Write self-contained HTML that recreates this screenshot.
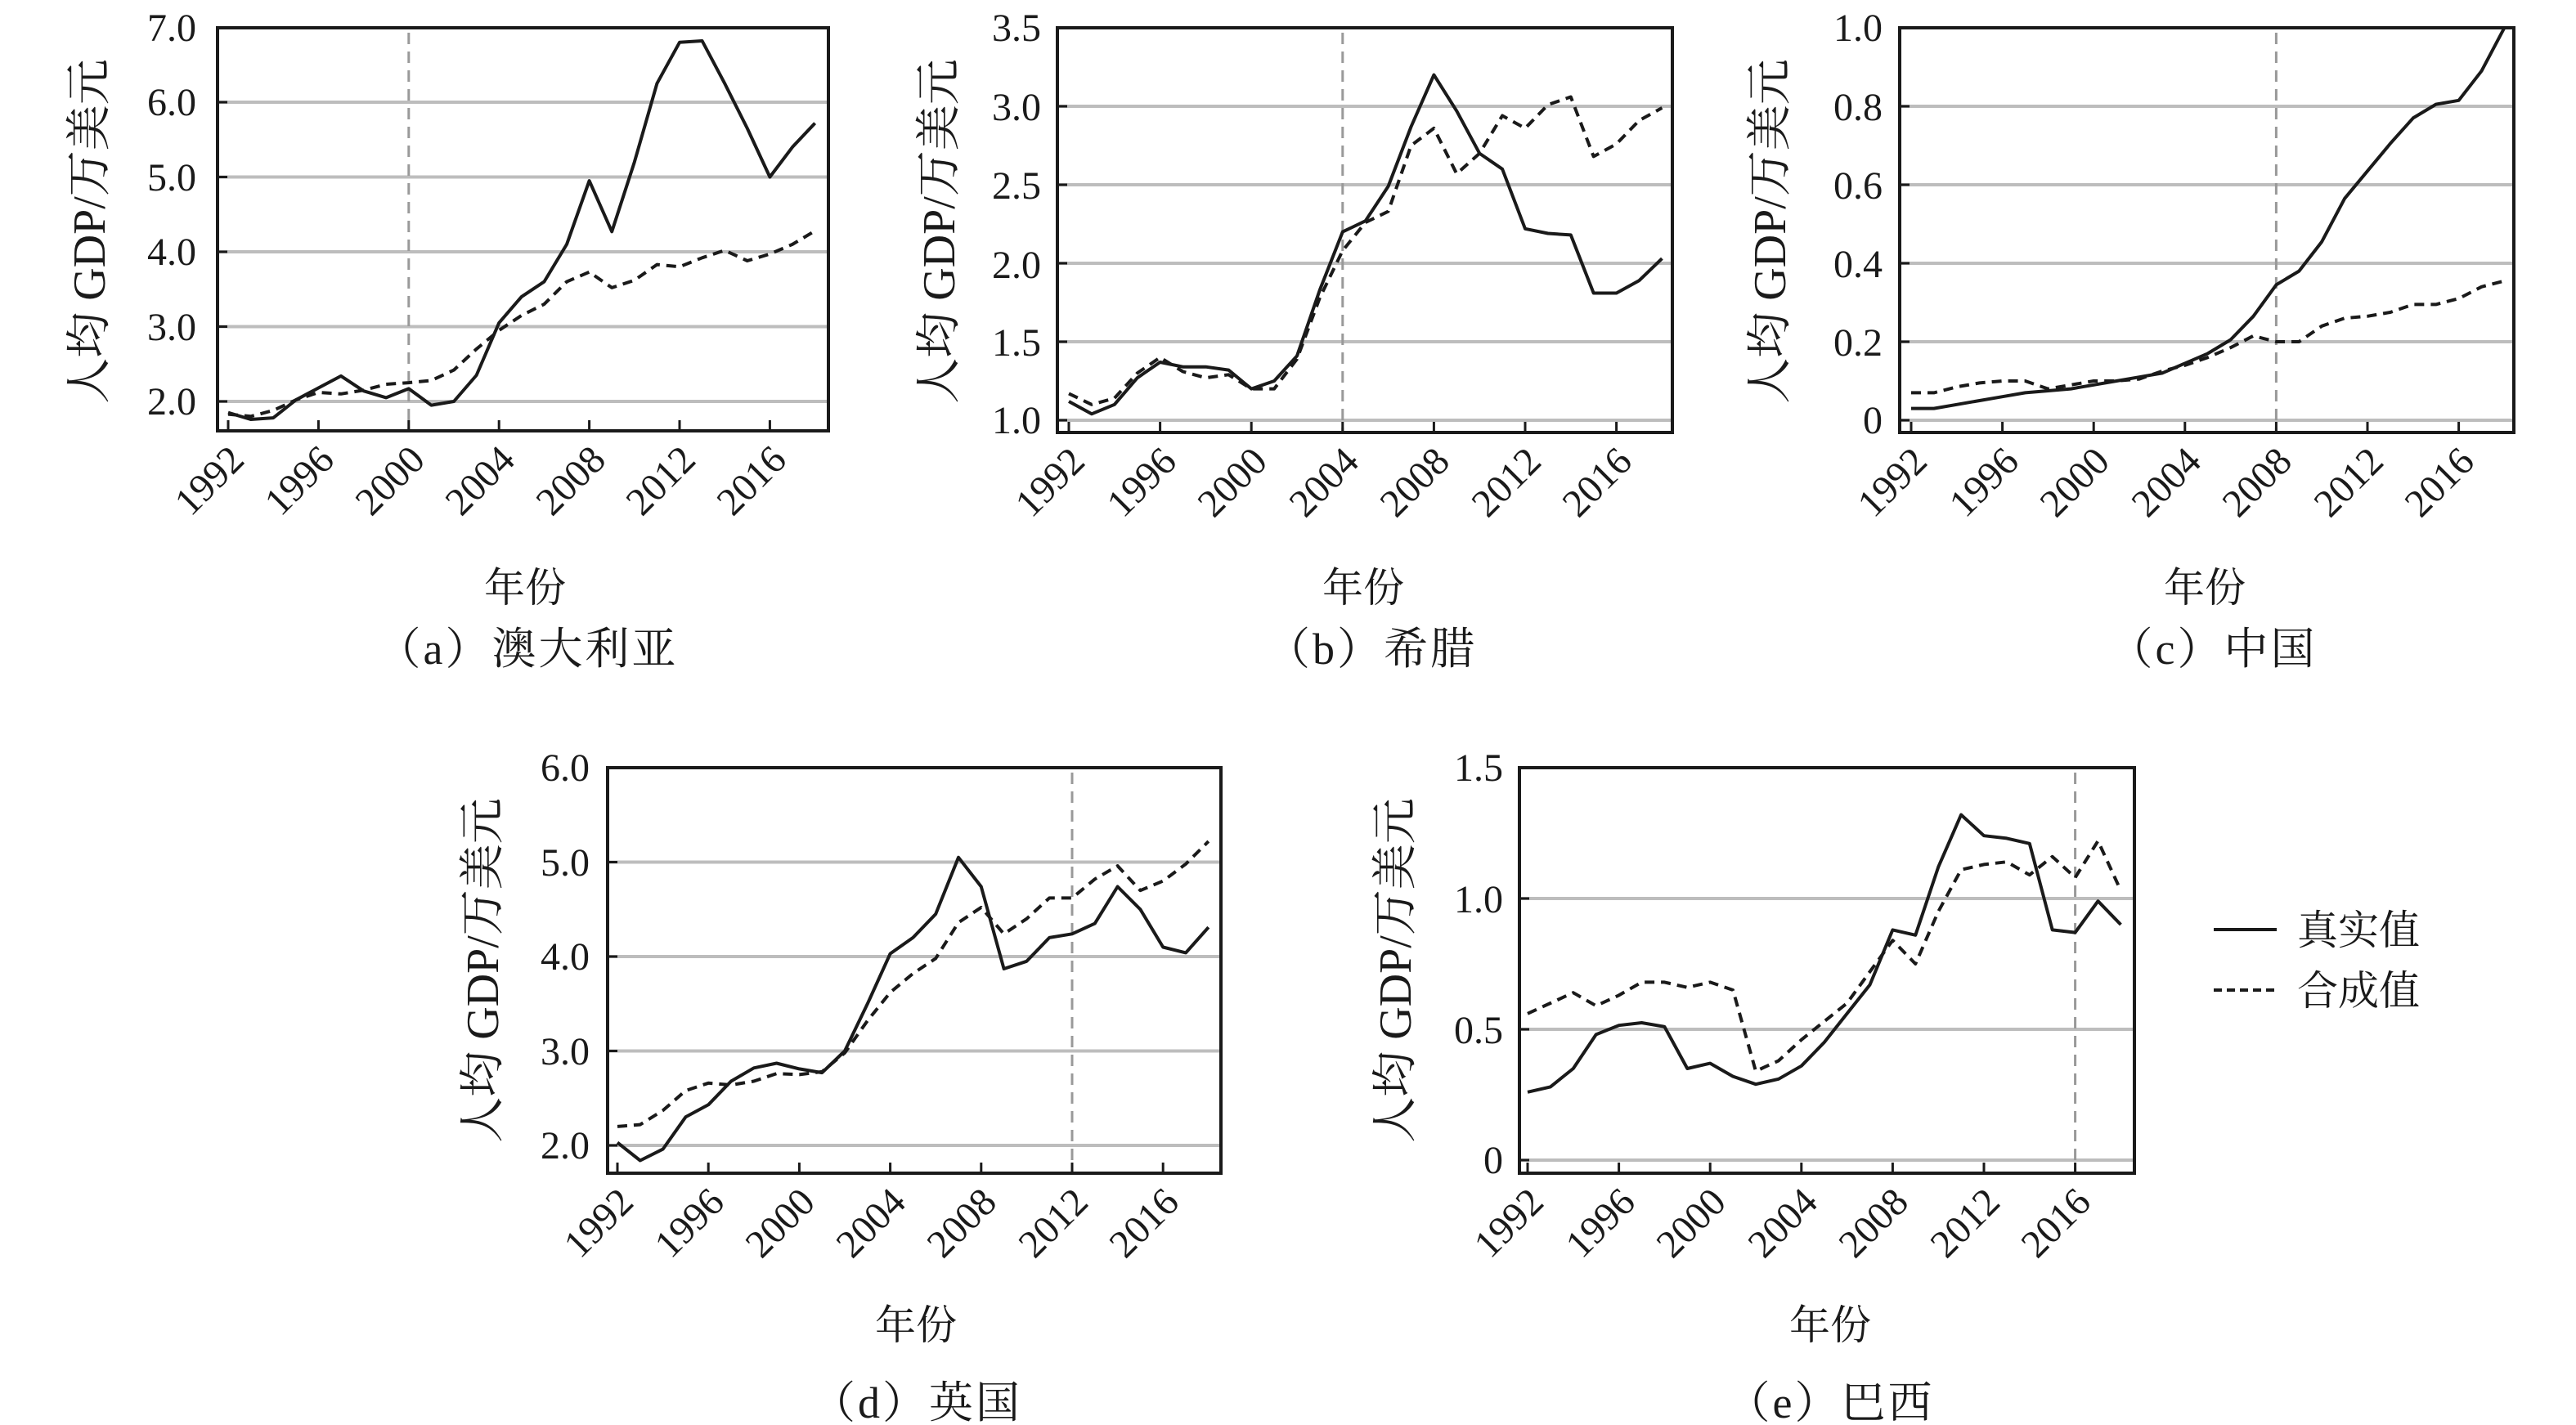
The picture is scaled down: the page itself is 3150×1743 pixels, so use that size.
<!DOCTYPE html>
<html><head><meta charset="utf-8"><style>
html,body{margin:0;padding:0;background:#fff;}
svg{display:block;}
text{font-family:"Liberation Serif","Noto Serif CJK SC","Noto Sans CJK SC",serif;fill:#1a1a1a;}
.t{font-size:48px;}
.yl{font-size:56px;}
.lg{font-size:50px;}
.xt{font-size:50px;}
.cap{font-size:54px;letter-spacing:3px;}
</style></head><body>
<svg id="s" width="3150" height="1743" viewBox="0 0 3150 1743" xmlns="http://www.w3.org/2000/svg">
<g id="g"></g>
<!-- panel a -->
<g class="t" text-anchor="end">
<text x="240" y="50">7.0</text><text x="240" y="141">6.0</text><text x="240" y="233">5.0</text><text x="240" y="324">4.0</text><text x="240" y="416">3.0</text><text x="240" y="507">2.0</text>
</g>
<text class="yl" transform="translate(128,283) rotate(-90)" text-anchor="middle">人均 GDP/万美元</text>
<text class="xt" x="642" y="736" text-anchor="middle">年份</text>
<text class="cap" x="645" y="812" text-anchor="middle">（a）澳大利亚</text>
<!-- panel b -->
<g class="t" text-anchor="end">
<text x="1273" y="50">3.5</text><text x="1273" y="147">3.0</text><text x="1273" y="243">2.5</text><text x="1273" y="340">2.0</text><text x="1273" y="435">1.5</text><text x="1273" y="530">1.0</text>
</g>
<text class="yl" transform="translate(1167,283) rotate(-90)" text-anchor="middle">人均 GDP/万美元</text>
<text class="xt" x="1667" y="736" text-anchor="middle">年份</text>
<text class="cap" x="1677" y="812" text-anchor="middle">（b）希腊</text>
<!-- panel c -->
<g class="t" text-anchor="end">
<text x="2302" y="50">1.0</text><text x="2302" y="147">0.8</text><text x="2302" y="243">0.6</text><text x="2302" y="339">0.4</text><text x="2302" y="435">0.2</text><text x="2302" y="530">0</text>
</g>
<text class="yl" transform="translate(2183,283) rotate(-90)" text-anchor="middle">人均 GDP/万美元</text>
<text class="xt" x="2696" y="736" text-anchor="middle">年份</text>
<text class="cap" x="2706" y="812" text-anchor="middle">（c）中国</text>
<!-- panel d -->
<g class="t" text-anchor="end">
<text x="721" y="955">6.0</text><text x="721" y="1071">5.0</text><text x="721" y="1186">4.0</text><text x="721" y="1302">3.0</text><text x="721" y="1417">2.0</text>
</g>
<text class="yl" transform="translate(609,1187) rotate(-90)" text-anchor="middle">人均 GDP/万美元</text>
<text class="xt" x="1120" y="1638" text-anchor="middle">年份</text>
<text class="cap" x="1121" y="1734" text-anchor="middle">（d）英国</text>
<!-- panel e -->
<g class="t" text-anchor="end">
<text x="1838" y="955">1.5</text><text x="1838" y="1116">1.0</text><text x="1838" y="1276">0.5</text><text x="1838" y="1435">0</text>
</g>
<text class="yl" transform="translate(1725,1187) rotate(-90)" text-anchor="middle">人均 GDP/万美元</text>
<text class="xt" x="2238" y="1638" text-anchor="middle">年份</text>
<text class="cap" x="2238" y="1734" text-anchor="middle">（e）巴西</text>
<!-- legend -->
<line x1="2707" y1="1137" x2="2784" y2="1137" stroke="#1a1a1a" stroke-width="4"/>
<line x1="2707" y1="1211" x2="2784" y2="1211" stroke="#1a1a1a" stroke-width="4" stroke-dasharray="10,6"/>
<text class="lg" x="2809" y="1155">真实值</text>
<text class="lg" x="2809" y="1229">合成值</text>
<!-- year labels -->
<g class="t" text-anchor="end">
<g>
<text transform="translate(301,565) rotate(-45)">1992</text><text transform="translate(411,565) rotate(-45)">1996</text><text transform="translate(522,565) rotate(-45)">2000</text><text transform="translate(632,565) rotate(-45)">2004</text><text transform="translate(743,565) rotate(-45)">2008</text><text transform="translate(853,565) rotate(-45)">2012</text><text transform="translate(964,565) rotate(-45)">2016</text>
</g>
<g>
<text transform="translate(1329,567) rotate(-45)">1992</text><text transform="translate(1441,567) rotate(-45)">1996</text><text transform="translate(1552,567) rotate(-45)">2000</text><text transform="translate(1664,567) rotate(-45)">2004</text><text transform="translate(1775,567) rotate(-45)">2008</text><text transform="translate(1887,567) rotate(-45)">2012</text><text transform="translate(1998,567) rotate(-45)">2016</text>
</g>
<g>
<text transform="translate(2359,567) rotate(-45)">1992</text><text transform="translate(2471,567) rotate(-45)">1996</text><text transform="translate(2582,567) rotate(-45)">2000</text><text transform="translate(2694,567) rotate(-45)">2004</text><text transform="translate(2805,567) rotate(-45)">2008</text><text transform="translate(2917,567) rotate(-45)">2012</text><text transform="translate(3028,567) rotate(-45)">2016</text>
</g>
<g>
<text transform="translate(777,1473) rotate(-45)">1992</text><text transform="translate(888,1473) rotate(-45)">1996</text><text transform="translate(999,1473) rotate(-45)">2000</text><text transform="translate(1110,1473) rotate(-45)">2004</text><text transform="translate(1221,1473) rotate(-45)">2008</text><text transform="translate(1333,1473) rotate(-45)">2012</text><text transform="translate(1444,1473) rotate(-45)">2016</text>
</g>
<g>
<text transform="translate(1890,1473) rotate(-45)">1992</text><text transform="translate(2002,1473) rotate(-45)">1996</text><text transform="translate(2113,1473) rotate(-45)">2000</text><text transform="translate(2225,1473) rotate(-45)">2004</text><text transform="translate(2336,1473) rotate(-45)">2008</text><text transform="translate(2448,1473) rotate(-45)">2012</text><text transform="translate(2559,1473) rotate(-45)">2016</text>
</g>
</g>
</svg>
<script>
var NS="http://www.w3.org/2000/svg",G=document.getElementById("g");
function el(n,a){var e=document.createElementNS(NS,n);for(var k in a)e.setAttribute(k,a[k]);G.appendChild(e);return e;}
var P=[
{L:266,R:1013,T:34,B:527,x0:279,dx:27.6,f:function(v){return 491-(v-2)*91.5},grid:[2,3,4,5,6],vl:2000,
r:[1.85,1.76,1.78,2.02,2.18,2.34,2.14,2.05,2.17,1.95,2.0,2.35,3.05,3.4,3.6,4.1,4.95,4.27,5.2,6.25,6.8,6.82,6.25,5.65,5.0,5.4,5.72],
s:[1.83,1.8,1.88,2.02,2.12,2.1,2.15,2.23,2.25,2.28,2.42,2.7,2.95,3.15,3.3,3.6,3.73,3.52,3.62,3.83,3.8,3.92,4.02,3.88,3.97,4.1,4.28]},
{L:1293,R:2045,T:34,B:529,x0:1307,dx:27.9,f:function(v){return 514-(v-1)*192},grid:[1,1.5,2,2.5,3],vl:2004,
r:[1.12,1.04,1.1,1.27,1.37,1.34,1.34,1.32,1.2,1.25,1.41,1.83,2.2,2.27,2.49,2.87,3.2,2.97,2.7,2.6,2.22,2.19,2.18,1.81,1.81,1.89,2.03],
s:[1.17,1.1,1.14,1.3,1.4,1.31,1.27,1.29,1.2,1.2,1.39,1.78,2.08,2.26,2.33,2.75,2.86,2.57,2.7,2.94,2.86,3.01,3.06,2.68,2.76,2.91,2.99]},
{L:2323,R:3074,T:34,B:529,x0:2337,dx:27.9,f:function(v){return 514-v*480},grid:[0,0.2,0.4,0.6,0.8],vl:2008,
r:[.03,.03,.04,.05,.06,.07,.075,.08,.09,.10,.11,.12,.145,.17,.205,.265,.345,.38,.455,.565,.635,.705,.77,.805,.815,.89,1.0],
s:[.07,.07,.085,.095,.10,.10,.08,.09,.10,.10,.105,.125,.14,.16,.185,.215,.20,.20,.24,.26,.265,.275,.295,.295,.31,.34,.355]},
{L:743,R:1493,T:939,B:1435,x0:755,dx:27.8,f:function(v){return 1401-(v-2)*115.5},grid:[2,3,4,5],vl:2012,
r:[2.03,1.84,1.96,2.3,2.43,2.68,2.82,2.87,2.81,2.77,3.0,3.5,4.03,4.2,4.45,5.05,4.74,3.87,3.95,4.2,4.24,4.35,4.74,4.5,4.1,4.04,4.31],
s:[2.2,2.22,2.37,2.58,2.66,2.64,2.68,2.76,2.75,2.78,2.98,3.32,3.62,3.82,3.98,4.36,4.52,4.24,4.4,4.62,4.62,4.82,4.96,4.7,4.8,4.98,5.22]},
{L:1858,R:2610,T:939,B:1435,x0:1868,dx:27.9,f:function(v){return 1419-v*320},grid:[0,0.5,1],vl:2016,
r:[.26,.28,.35,.48,.515,.525,.51,.35,.37,.32,.29,.31,.36,.45,.56,.67,.88,.86,1.12,1.32,1.24,1.23,1.21,.88,.87,.99,.9],
s:[.56,.6,.64,.59,.63,.68,.68,.66,.68,.65,.34,.38,.46,.53,.6,.72,.84,.75,.95,1.11,1.13,1.14,1.09,1.16,1.08,1.22,1.03]}
];
P.forEach(function(p){
  p.grid.forEach(function(v){var y=p.f(v);el("line",{x1:p.L,x2:p.R,y1:y,y2:y,stroke:"#bdbdbd","stroke-width":4});
    el("line",{x1:p.L,x2:p.L+12,y1:y,y2:y,stroke:"#1a1a1a","stroke-width":3});});
  var vx=p.x0+(p.vl-1992)*p.dx;
  el("line",{x1:vx,x2:vx,y1:p.T+6,y2:p.B,stroke:"#999","stroke-width":3,"stroke-dasharray":"14,9"});
  for(var yr=1992;yr<=2016;yr+=4){var x=p.x0+(yr-1992)*p.dx;el("line",{x1:x,x2:x,y1:p.B,y2:p.B-13,stroke:"#1a1a1a","stroke-width":3});}
  function pts(a){return a.map(function(v,i){return (p.x0+i*p.dx).toFixed(1)+","+p.f(v).toFixed(1)}).join(" ");}
  el("polyline",{points:pts(p.s),fill:"none",stroke:"#1a1a1a","stroke-width":4,"stroke-dasharray":"12,8","stroke-linejoin":"round"});
  el("polyline",{points:pts(p.r),fill:"none",stroke:"#1a1a1a","stroke-width":4,"stroke-linejoin":"round"});
  el("rect",{x:p.L,y:p.T,width:p.R-p.L,height:p.B-p.T,fill:"none",stroke:"#1a1a1a","stroke-width":4});
});
</script>
</body></html>
